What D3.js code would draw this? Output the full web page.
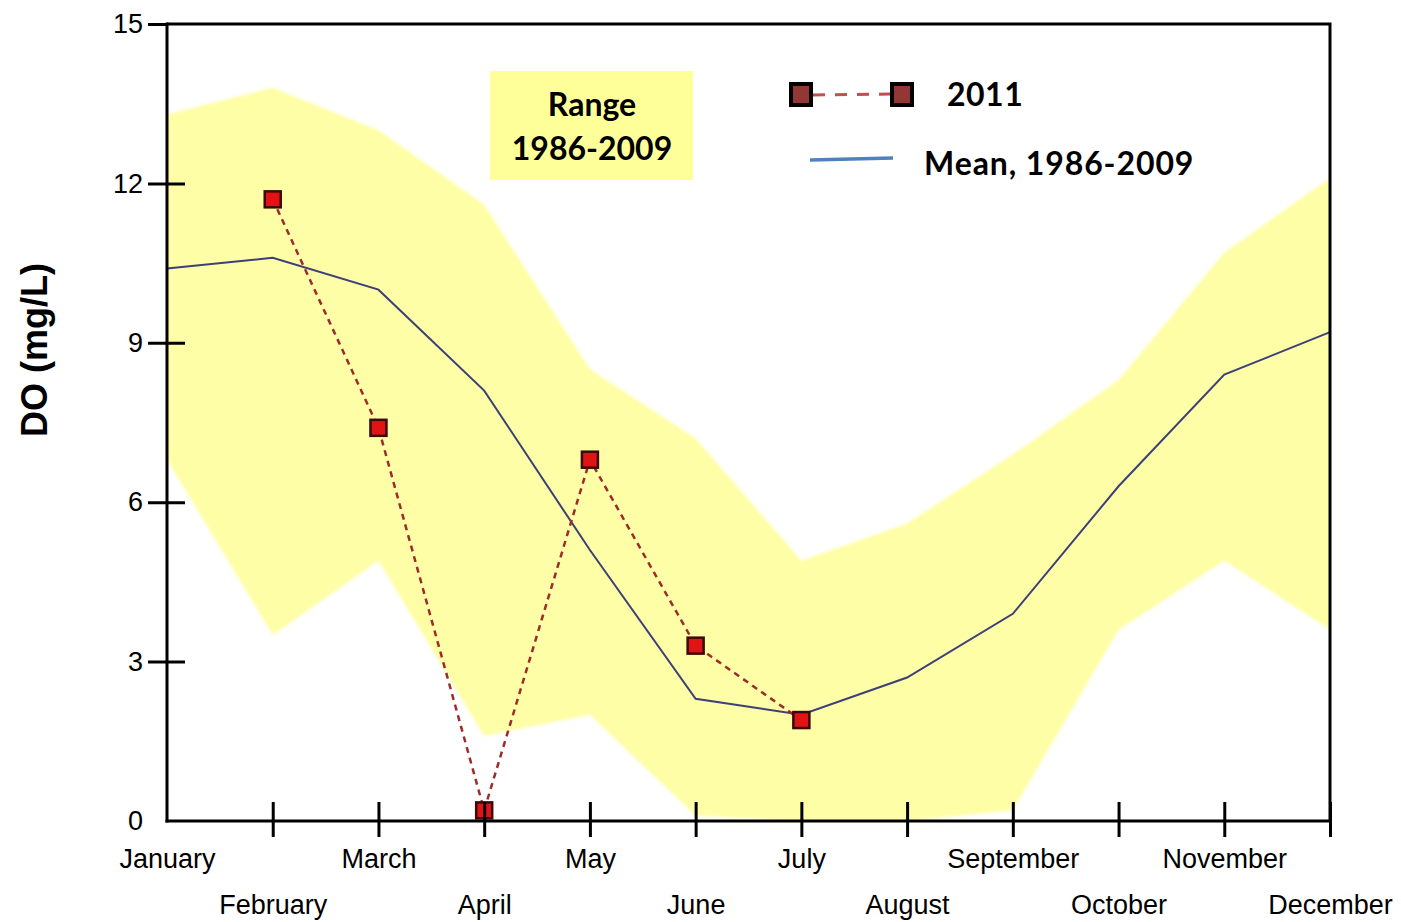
<!DOCTYPE html>
<html>
<head>
<meta charset="utf-8">
<script src="https://cdn.jsdelivr.net/npm/d3@7"></script>
<style>
  body { margin: 0; background: #fff; }
  svg { display: block; }
</style>
</head>
<body>
<div id="chart"></div>
<script>
// Data

let months = ['January', 'February', 'March', 'April', 'May', 'June', 'July',
  'August', 'September', 'October', 'November', 'December']

let rangeHigh = [13.3, 13.8, 13.0, 11.6, 8.5, 7.2, 4.9, 5.6, 6.9, 8.3, 10.7, 12.1]
let rangeLow = [6.8, 3.5, 4.9, 1.6, 2.0, 0.1, 0.0, 0.0, 0.2, 3.6, 4.9, 3.6]
let meanDO = [10.4, 10.6, 10.0, 8.1, 5.1, 2.3, 2.0, 2.7, 3.9, 6.3, 8.4, 9.2]

let months2011 = ['February', 'March', 'April', 'May', 'June', 'July']
let values2011 = [11.7, 7.4, 0.2, 6.8, 3.3, 1.9]

let yTicks = [0, 3, 6, 9, 12, 15]

// Set up sizes

let width = 1401
let height = 922
let plot = { left: 167, right: 1330, top: 24, bottom: 821 }

let svg = d3.select('#chart')
  .append('svg')
  .attr('width', width)
  .attr('height', height)

let defs = svg.append('defs')
defs.append('clipPath')
  .attr('id', 'plot-clip')
  .append('rect')
  .attr('x', plot.left)
  .attr('y', plot.top)
  .attr('width', plot.right - plot.left)
  .attr('height', plot.bottom - plot.top)
defs.append('filter')
  .attr('id', 'soft')
  .append('feGaussianBlur')
  .attr('stdDeviation', 1.5)

// Scales

let xPositionScale = d3.scalePoint()
  .domain(months)
  .range([plot.left, plot.right])

let yPositionScale = d3.scaleLinear()
  .domain([0, 15])
  .range([plot.bottom, plot.top])

// Range band

let band = months.map((m, i) => ({ month: m, hi: rangeHigh[i], lo: rangeLow[i] }))

let area = d3.area()
  .x(d => xPositionScale(d.month))
  .y0(d => yPositionScale(d.lo))
  .y1(d => yPositionScale(d.hi))

svg.append('g')
  .attr('clip-path', 'url(#plot-clip)')
  .append('path')
  .datum(band)
  .attr('d', area)
  .attr('fill', '#fefea6')
  .attr('filter', 'url(#soft)')

// Mean line

let meanLine = d3.line()
  .x((d, i) => xPositionScale(months[i]))
  .y(d => yPositionScale(d))

svg.append('path')
  .datum(meanDO)
  .attr('d', meanLine)
  .attr('fill', 'none')
  .attr('stroke', '#3d3f78')
  .attr('stroke-width', 2)

// 2011 line and markers

let points = months2011.map((m, i) => ({ month: m, value: values2011[i] }))

let line2011 = d3.line()
  .x(d => xPositionScale(d.month))
  .y(d => yPositionScale(d.value))

svg.append('path')
  .datum(points)
  .attr('d', line2011)
  .attr('fill', 'none')
  .attr('stroke', '#9c2b2b')
  .attr('stroke-width', 2.5)
  .attr('stroke-dasharray', '6,5')

svg.selectAll('.marker')
  .data(points)
  .enter()
  .append('rect')
  .attr('class', 'marker')
  .attr('x', d => xPositionScale(d.month) - 8)
  .attr('y', d => yPositionScale(d.value) - 8)
  .attr('width', 16)
  .attr('height', 16)
  .attr('fill', '#e01414')
  .attr('stroke', '#3a0a0a')
  .attr('stroke-width', 2.5)

// Frame

svg.append('path')
  .attr('d', `M${plot.left},${plot.top}H${plot.right}V${plot.bottom}`)
  .attr('fill', 'none')
  .attr('stroke', '#000')
  .attr('stroke-width', 3)

// Axes

let yAxis = d3.axisLeft(yPositionScale)
  .tickValues(yTicks)
  .tickSize(19)
  .tickPadding(6)
  .tickFormat(d3.format('d'))

let yG = svg.append('g')
  .attr('class', 'axis y-axis')
  .attr('transform', `translate(${plot.left},0)`)
  .call(yAxis)

yG.select('.domain')
  .attr('stroke-width', 3)
  .attr('d', `M0,${plot.top - 1.5}V${plot.bottom + 1.5}`)
yG.selectAll('.tick line')
  .attr('stroke-width', 3)
  .attr('x2', -19)
  .attr('x1', d => (d === 0 || d === 15) ? 0 : 18)
  .attr('display', d => d === 0 ? 'none' : null)
yG.selectAll('.tick text')
  .attr('x', -24)
  .attr('font-family', 'Liberation Sans, Arial, sans-serif')
  .attr('font-size', 27)
  .attr('fill', '#000')

let xAxis = d3.axisBottom(xPositionScale)
  .tickSize(16)
  .tickSizeOuter(0)

let xG = svg.append('g')
  .attr('class', 'axis x-axis')
  .attr('transform', `translate(0,${plot.bottom})`)
  .call(xAxis)

xG.select('.domain')
  .attr('stroke-width', 3)
  .attr('d', `M${plot.left - 1.5},0H${plot.right + 1.5}`)
xG.selectAll('.tick line')
  .attr('stroke-width', 3)
  .attr('y1', -19)
  .attr('display', d => d === 'January' ? 'none' : null)
xG.selectAll('.tick text')
  .attr('y', (d, i) => i % 2 === 0 ? 47 : 93)
  .attr('dy', 0)
  .attr('font-family', 'Liberation Sans, Arial, sans-serif')
  .attr('font-size', 27)
  .attr('fill', '#000')

// Y-axis title

svg.append('text')
  .text('DO (mg/L)')
  .attr('transform', 'translate(47,350) rotate(-90)')
  .attr('text-anchor', 'middle')
  .attr('font-family', 'Liberation Sans, Arial, sans-serif')
  .attr('font-weight', 'bold')
  .attr('font-size', 36)

// Range label box

let rangeBox = svg.append('g')
rangeBox.append('rect')
  .attr('x', 490)
  .attr('y', 71)
  .attr('width', 203)
  .attr('height', 109)
  .attr('fill', '#ffff99')
rangeBox.selectAll('text')
  .data(['Range', '1986-2009'])
  .enter()
  .append('text')
  .text(d => d)
  .attr('x', 592)
  .attr('y', (d, i) => i === 0 ? 116 : 160)
  .attr('text-anchor', 'middle')
  .attr('font-family', 'Lato, sans-serif')
  .attr('font-weight', 'bold')
  .attr('font-size', 32)

// Legend

let legend = svg.append('g')

legend.append('line')
  .attr('x1', 813)
  .attr('x2', 890)
  .attr('y1', 95)
  .attr('y2', 94)
  .attr('stroke', '#c0504d')
  .attr('stroke-width', 3)
  .attr('stroke-dasharray', '12,10')

legend.selectAll('.legend-square')
  .data([801, 902])
  .enter()
  .append('rect')
  .attr('class', 'legend-square')
  .attr('x', d => d - 10)
  .attr('y', 84)
  .attr('width', 20)
  .attr('height', 21)
  .attr('fill', '#943634')
  .attr('stroke', '#000')
  .attr('stroke-width', 4)

legend.append('text')
  .text('2011')
  .attr('x', 947)
  .attr('y', 106)
  .attr('font-family', 'Lato, sans-serif')
  .attr('font-weight', 'bold')
  .attr('font-size', 32)
  .attr('letter-spacing', 0.5)

legend.append('line')
  .attr('x1', 810)
  .attr('x2', 893)
  .attr('y1', 160)
  .attr('y2', 158)
  .attr('stroke', '#4f81bd')
  .attr('stroke-width', 3.5)

legend.append('text')
  .text('Mean, 1986-2009')
  .attr('x', 924)
  .attr('y', 175)
  .attr('font-family', 'Lato, sans-serif')
  .attr('font-weight', 'bold')
  .attr('font-size', 32)
  .attr('letter-spacing', 0.9)
</script>
</body>
</html>
